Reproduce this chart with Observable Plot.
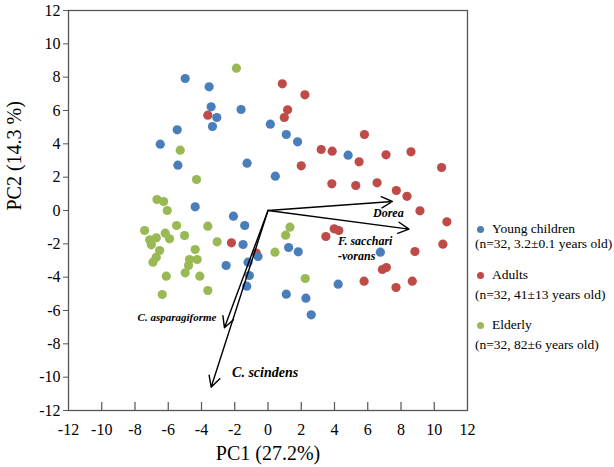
<!DOCTYPE html>
<html>
<head>
<meta charset="utf-8">
<script src="https://cdn.jsdelivr.net/npm/d3@7"></script>
<script src="https://cdn.jsdelivr.net/npm/@observablehq/plot@0.6"></script>
<style>
  html, body { margin: 0; padding: 0; background: #fff; overflow: hidden; }
  #wrap { position: relative; width: 614px; height: 467px; }
  #legend { position: absolute; left: 0; top: 0; width: 614px; height: 467px; pointer-events: none;
            font-family: "Liberation Serif", "Times New Roman", serif; font-size: 13.5px; color: #000; }
  #legend .line { position: absolute; white-space: nowrap; line-height: 13.5px; }
  #legend .dot { position: absolute; width: 7px; height: 7px; border-radius: 50%; }
</style>
</head>
<body>
<div id="wrap"></div>
<script>
// PCA scores (PC1, PC2) for each age group
const youngChildren = [
  [-4.98, 7.92], [-3.54, 7.42], [-3.42, 6.22], [-3.08, 5.58], [-3.34, 5.04],
  [-5.46, 4.84], [-6.48, 3.98], [-5.42, 2.72], [-1.62, 6.06], [0.14, 5.18],
  [1.10, 4.56], [1.78, 4.12], [-1.26, 2.84], [0.44, 2.06], [4.82, 3.32],
  [6.76, -2.50], [4.22, -4.42], [-2.08, -0.34], [-1.40, -0.90], [-1.50, -2.04],
  [-0.60, -2.76], [-2.52, -3.30], [-1.20, -3.10], [-1.12, -3.90], [-1.28, -4.54],
  [1.24, -2.22], [1.82, -2.48], [1.10, -5.02], [2.28, -5.26], [2.60, -6.26],
  [-4.38, 0.22]
];
const adults = [
  [-3.62, 5.72], [0.86, 7.60], [2.22, 6.94], [1.18, 6.04], [0.98, 5.58],
  [3.20, 3.66], [3.86, 3.56], [2.00, 2.68], [3.84, 1.60], [5.80, 4.56],
  [5.48, 2.92], [7.10, 3.34], [8.60, 3.52], [10.44, 2.58], [5.28, 1.50],
  [6.56, 1.66], [7.72, 1.20], [8.36, 0.85], [9.14, -0.02], [10.76, -0.68],
  [3.98, -1.10], [4.26, -1.20], [10.52, -2.02], [8.84, -2.46], [6.88, -3.54],
  [7.12, -3.42], [5.78, -4.24], [7.70, -4.62], [8.68, -4.24], [-2.20, -1.94],
  [-0.70, -2.56], [3.48, -1.56]
];
const elderly = [
  [-1.90, 8.54], [-5.28, 3.62], [-4.30, 1.86], [-6.68, 0.66], [-6.28, 0.54],
  [-6.06, 0.00], [-7.42, -1.20], [-5.50, -0.90], [-3.62, -0.94], [-5.02, -1.50],
  [-6.18, -1.36], [-5.92, -1.70], [-7.12, -1.76], [-6.72, -1.64], [-7.02, -2.06],
  [-3.06, -1.88], [-6.52, -2.40], [-4.38, -2.34], [-6.72, -2.80], [-6.92, -3.10],
  [-4.72, -2.94], [-4.26, -2.94], [-4.78, -3.30], [-4.98, -3.74], [-6.12, -3.94],
  [-4.10, -3.94], [-6.36, -5.04], [-3.62, -4.80], [1.32, -1.00], [1.06, -1.48],
  [0.42, -2.50], [2.24, -4.08]
];

// Loading vectors of the discriminating taxa
const taxa = ["Dorea", "F. sacchari\n-vorans", "C. asparagiforme", "C. scindens"];
const taxaPC1 = [7.48, 8.48, -2.62, -3.42];
const taxaPC2 = [0.54, -1.12, -7.04, -10.60];

// Axis ticks and titles
const axisTicks = [-12, -10, -8, -6, -4, -2, 0, 2, 4, 6, 8, 10, 12];
const xTitle = "PC1 (27.2%)";
const yTitle = "PC2 (14.3 %)";

// Legend entries
const groupNames = ["Young children", "Adults", "Elderly"];
const groupNotes = ["(n=32, 3.2±0.1 years old)", "(n=32, 41±13 years old)", "(n=32, 82±6 years old)"];
const groupColors = ["#4A7EBB", "#BE4B48", "#98B954"];

const serif = "'Liberation Serif', 'Times New Roman', serif";
const toRows = (pts) => pts.map(([pc1, pc2]) => ({pc1, pc2}));
const loadings = taxa.map((name, i) => ({name, pc1: taxaPC1[i], pc2: taxaPC2[i]}));
const byName = (n) => loadings.filter((d) => d.name === n);
const plainNumber = (d) => String(d);

const labelStyle = {text: "name", fontWeight: "bold", fontStyle: "italic", fill: "#000", fontFamily: serif};

const chart = Plot.plot({
  width: 614,
  height: 467,
  marginLeft: 68,
  marginRight: 147,
  marginTop: 10,
  marginBottom: 57,
  x: {domain: [-12, 12]},
  y: {domain: [-12, 12]},
  style: {fontFamily: serif, fontSize: "16px", color: "#000", background: "#fff"},
  marks: [
    Plot.frame({stroke: "#555", strokeWidth: 1.3}),
    Plot.axisY({ticks: axisTicks, tickFormat: plainNumber, tickSize: 5, tickPadding: 3, label: null, stroke: "#555", fontSize: 16, fontFamily: serif, fill: "#000"}),
    Plot.axisX({ticks: axisTicks, tickFormat: plainNumber, tickSize: 0, tickPadding: 13, label: null, fontSize: 16, fontFamily: serif, fill: "#000"}),
    Plot.tickX(axisTicks.filter((t) => t > -12 && t < 12), {x: (d) => d, stroke: "#555", strokeWidth: 1.2, insetTop: 392}),
    Plot.dot(toRows(elderly), {x: "pc1", y: "pc2", r: 4.6, fill: groupColors[2]}),
    Plot.dot(toRows(adults), {x: "pc1", y: "pc2", r: 4.6, fill: groupColors[1]}),
    Plot.dot(toRows(youngChildren), {x: "pc1", y: "pc2", r: 4.6, fill: groupColors[0]}),
    Plot.arrow(loadings, {x1: () => 0, y1: () => 0, x2: "pc1", y2: "pc2", stroke: "#000", strokeWidth: 1.4, headLength: 13, headAngle: 55}),
    Plot.text(byName("Dorea"), {...labelStyle, x: "pc1", y: "pc2", fontSize: 12, dx: -4, dy: 12}),
    Plot.text(byName("F. sacchari\n-vorans"), {...labelStyle, x: "pc1", y: "pc2", fontSize: 12, textAnchor: "start", lineHeight: 1.25, dx: -71, dy: 19}),
    Plot.text(byName("C. asparagiforme"), {...labelStyle, x: "pc1", y: "pc2", fontSize: 11, textAnchor: "end", dx: -8, dy: -10}),
    Plot.text(byName("C. scindens"), {...labelStyle, x: "pc1", y: "pc2", fontSize: 14, dx: 54, dy: -15}),
    Plot.text([xTitle], {text: (d) => d, frameAnchor: "bottom", dy: 49, fontSize: 20, fontFamily: serif}),
    Plot.text([yTitle], {text: (d) => d, frameAnchor: "left", rotate: -90, dx: -54, fontSize: 20, fontFamily: serif})
  ]
});

const wrap = document.getElementById("wrap");
wrap.appendChild(chart);

// Legend to the right of the plot frame
const legend = d3.select(wrap).append("div").attr("id", "legend");
const rowTop = [221.5, 267.5, 317.5];
groupNames.forEach((name, i) => {
  legend.append("div").attr("class", "dot")
    .style("left", "476.5px").style("top", (rowTop[i] + 4) + "px")
    .style("background", groupColors[i]);
  legend.append("div").attr("class", "line")
    .style("left", "492px").style("top", rowTop[i] + "px").text(name);
  legend.append("div").attr("class", "line")
    .style("left", "475px").style("top", (rowTop[i] + (i === 0 ? 15 : 20)) + "px").text(groupNotes[i]);
});
</script>
</body>
</html>
